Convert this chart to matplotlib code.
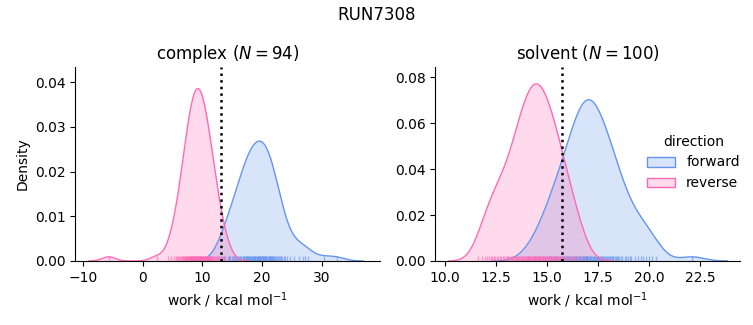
import numpy as np
import matplotlib
matplotlib.use("Agg")
import matplotlib.pyplot as plt
from matplotlib.patches import Patch

complex_forward = [
    12.6, 13.3, 13.6, 13.8, 14.2, 14.4, 14.6, 14.9, 15.1, 15.3, 15.5, 15.6, 15.7, 15.9,
    16.05, 16.2, 16.4, 16.5, 16.7, 16.8, 16.95,
    17.0, 17.1, 17.25, 17.3, 17.4, 17.5, 17.6, 17.7, 17.8, 17.9,
    18.0, 18.1, 18.2, 18.3, 18.4, 18.5, 18.6, 18.7, 18.75, 18.85,
    19.0, 19.1, 19.15, 19.25, 19.3, 19.4, 19.5, 19.6, 19.7, 19.75, 19.85,
    20.0, 20.05, 20.15, 20.2, 20.3, 20.4, 20.5, 20.55, 20.65, 20.7, 20.8,
    21.0, 21.1, 21.2, 21.25, 21.35, 21.4, 21.5, 21.6, 21.7, 21.8, 21.9,
    22.0, 22.15, 22.3, 22.4, 22.6, 22.75, 22.9,
    23.1, 23.3, 23.6, 23.9, 24.2, 24.7, 25.4, 26.1, 26.8, 27.2, 27.7,
    30.3, 32.5,
]
complex_reverse = [
    -5.7, 2.3, 4.3, 4.8, 5.2, 5.5, 5.7, 5.9,
    6.1, 6.3, 6.4, 6.6, 6.7, 6.8, 6.95,
    7.05, 7.1, 7.2, 7.3, 7.35, 7.4, 7.5, 7.6, 7.7, 7.75, 7.85, 7.9,
    8.0, 8.05, 8.1, 8.2, 8.25, 8.3, 8.4, 8.45, 8.5, 8.6, 8.65, 8.7, 8.75, 8.8, 8.9, 8.95,
    9.0, 9.05, 9.1, 9.15, 9.2, 9.3, 9.35, 9.4, 9.5, 9.55, 9.6, 9.7, 9.75, 9.8, 9.85, 9.9, 9.95,
    10.0, 10.1, 10.15, 10.2, 10.3, 10.4, 10.45, 10.5, 10.6, 10.7, 10.75, 10.8, 10.9, 10.95,
    11.05, 11.1, 11.2, 11.3, 11.4, 11.5, 11.6, 11.7, 11.8, 11.9,
    12.1, 12.2, 12.4, 12.5, 12.7, 12.9, 13.1, 13.4, 13.8, 14.4,
]
solvent_forward = [
    14.05, 14.38, 14.62, 14.8, 14.9, 15.0, 15.1, 15.2,
    15.28, 15.35, 15.42, 15.5, 15.57, 15.64, 15.71,
    15.77, 15.82, 15.87, 15.92, 15.97, 16.03, 16.08, 16.13, 16.18, 16.23,
    16.27, 16.31, 16.35, 16.39, 16.43, 16.47, 16.51, 16.55, 16.59, 16.63, 16.67, 16.7, 16.73,
    16.76, 16.79, 16.82, 16.85, 16.88, 16.91, 16.94, 16.95, 16.97, 17.0, 17.04, 17.08, 17.12, 17.16, 17.2, 17.24,
    17.27, 17.31, 17.35, 17.39, 17.43, 17.45, 17.47, 17.51, 17.55, 17.59, 17.63, 17.67, 17.7, 17.74,
    17.78, 17.82, 17.87, 17.92, 17.97, 18.02, 18.07, 18.12, 18.16, 18.2, 18.24,
    18.3, 18.36, 18.42, 18.48, 18.54, 18.6, 18.66,
    18.8, 18.88, 18.96, 19.04, 19.12,
    19.32, 19.45, 19.58, 19.7, 19.85, 20.0, 20.15, 20.35, 22.1,
]
solvent_reverse = [
    11.62, 11.78, 11.93,
    12.05, 12.14, 12.22, 12.31, 12.38, 12.46,
    12.53, 12.6, 12.68, 12.75, 12.83, 12.9, 12.97,
    13.03, 13.09, 13.15, 13.2, 13.26, 13.32, 13.38, 13.43, 13.48,
    13.52, 13.55, 13.59, 13.63, 13.67, 13.7, 13.74, 13.78, 13.82, 13.86, 13.9, 13.94, 13.98,
    14.01, 14.04, 14.07, 14.1, 14.13, 14.16, 14.19, 14.22, 14.25, 14.28, 14.31, 14.34, 14.38, 14.41, 14.44, 14.47,
    14.51, 14.54, 14.57, 14.6, 14.63, 14.66, 14.69, 14.72, 14.75, 14.78, 14.81, 14.84, 14.88, 14.91, 14.94, 14.97,
    15.02, 15.06, 15.09, 15.13, 15.17, 15.2, 15.24, 15.28, 15.32, 15.36, 15.4, 15.44, 15.48,
    15.53, 15.58, 15.63, 15.68, 15.73, 15.78, 15.84, 15.9, 15.96,
    16.04, 16.12, 16.2, 16.29, 16.37, 16.46, 16.6, 16.82,
]

PHASES = ["complex", "solvent"]
FREE_ENERGY = {"complex": 13.18, "solvent": 15.74}
COLORS = {"forward": "cornflowerblue", "reverse": "hotpink"}

data = {
    "complex": {"forward": complex_forward, "reverse": complex_reverse},
    "solvent": {"forward": solvent_forward, "reverse": solvent_reverse},
}
n_total = sum(len(v) for p in data.values() for v in p.values())


def kde(values, total):
    """Gaussian KDE (Scott bandwidth), scaled by share of all samples."""
    x = np.asarray(values, dtype=float)
    bw = x.std(ddof=1) * len(x) ** (-1 / 5)
    grid = np.linspace(x.min() - 3 * bw, x.max() + 3 * bw, 200)
    z = (grid[:, None] - x[None, :]) / bw
    dens = np.exp(-0.5 * z ** 2).sum(axis=1) / (np.sqrt(2 * np.pi) * bw * total)
    return grid, dens


fig = plt.figure(figsize=(7.53, 3.25), dpi=100)
axes = [fig.add_axes([0.1, 0.197, 0.405, 0.597]),
        fig.add_axes([0.578, 0.197, 0.405, 0.597])]
xlims = {"complex": (-11.3, 39.77), "solvent": (9.51, 24.46)}
ylims = {"complex": (0, 0.0434), "solvent": (0, 0.0846)}

for ax, phase in zip(axes, PHASES):
    for direction in ["forward", "reverse"]:
        vals = data[phase][direction]
        c = COLORS[direction]
        grid, dens = kde(vals, n_total)
        ax.fill_between(grid, dens, color=c, alpha=0.25, lw=0)
        ax.plot(grid, dens, color=c, lw=1)
        ax.vlines(vals, 0, 0.025, color=c, alpha=0.6, lw=1,
                  transform=ax.get_xaxis_transform())
    ax.axvline(FREE_ENERGY[phase], color="black", ls=":", lw=1.8)
    n = len(data[phase]["forward"])
    ax.set_title(f"{phase} ($N = {n}$)")
    ax.set_xlim(*xlims[phase])
    ax.set_ylim(*ylims[phase])
    ax.set_xlabel("work / kcal mol$^{-1}$")
    ax.spines["top"].set_visible(False)
    ax.spines["right"].set_visible(False)

axes[0].set_ylabel("Density")

handles = [Patch(facecolor=matplotlib.colors.to_rgba(COLORS[d], 0.25),
                 edgecolor=COLORS[d], label=d) for d in ["forward", "reverse"]]
fig.legend(handles=handles, title="direction", frameon=False,
           loc="center left", bbox_to_anchor=(0.843, 0.5))

fig.suptitle("RUN7308")
fig.savefig("out.png", dpi=100)
